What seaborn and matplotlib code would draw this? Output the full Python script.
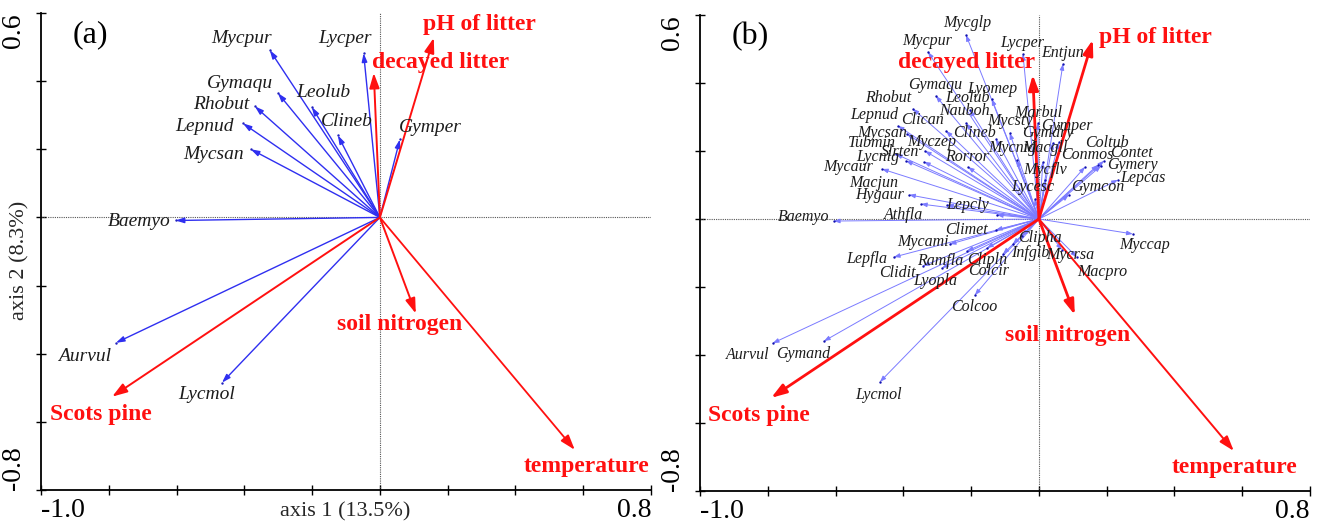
import matplotlib
matplotlib.use("Agg")
import matplotlib.pyplot as plt
import seaborn as sns
import numpy as np
import pandas as pd

# ---------------- data ----------------
env_names = ["pH of litter", "decayed litter", "soil nitrogen", "temperature", "Scots pine"]
env_x = [0.159, -0.018, 0.106, 0.575, -0.790]
env_y = [0.527, 0.424, -0.282, -0.682, -0.526]

sp_a_names = ["Mycpur", "Lycper", "Gymaqu", "Leolub", "Rhobut", "Lepnud", "Clineb",
              "Gymper", "Mycsan", "Baemyo", "Aurvul", "Lycmol"]
sp_a_x = [-0.325, -0.048, -0.301, -0.201, -0.369, -0.404, -0.124, 0.059, -0.381, -0.603, -0.779, -0.466]
sp_a_y = [0.491, 0.482, 0.365, 0.324, 0.326, 0.276, 0.241, 0.229, 0.200, -0.009, -0.368, -0.485]

sp_b_names = ["Mycglp", "Mycpur", "Lycper", "Entjun", "Gymaqu", "Lyomep", "Rhobut", "Leolub",
              "Nauboh", "Lepnud", "Clican", "Marbul", "Mycsty", "Gymper", "Mycsan", "Clineb",
              "Gymdry", "Tubmin", "Myczep", "Mycnig", "Macgll", "Coltub", "Slrten", "Lycnig",
              "Rorror", "Conmos", "Contet", "Mycaur", "Mycflv", "Gymery", "Lepcas", "Macjun",
              "Hygaur", "Lycesc", "Gymcon", "Lepcly", "Baemyo", "Athfla", "Climet", "Clipha",
              "Myccap", "Mycami", "Infgib", "Mycrsa", "Lepfla", "Ramfla", "Clipln", "Macpro",
              "Clidit", "Colcir", "Lyopla", "Colcoo", "Aurvul", "Gymand", "Lycmol"]
sp_b_x = [-0.215, -0.327, -0.047, 0.071, -0.304, -0.139, -0.372, -0.204,
          -0.215, -0.416, -0.274, -0.003, -0.086, 0.059, -0.389, -0.127,
          0.041, -0.422, -0.336, -0.065, 0.012, 0.174, -0.339, -0.392,
          -0.209, 0.136, 0.192, -0.463, 0.018, 0.183, 0.233, -0.383,
          -0.348, -0.012, 0.088, -0.124, -0.605, -0.271, -0.127, -0.050,
          0.277, -0.263, -0.077, 0.068, -0.428, -0.212, -0.153, 0.112,
          -0.342, -0.106, -0.286, -0.189, -0.785, -0.634, -0.469]
sp_b_y = [0.541, 0.491, 0.485, 0.456, 0.362, 0.353, 0.324, 0.321,
          0.282, 0.274, 0.259, 0.282, 0.253, 0.226, 0.250, 0.235,
          0.224, 0.191, 0.200, 0.174, 0.168, 0.159, 0.168, 0.171,
          0.153, 0.153, 0.171, 0.147, 0.115, 0.156, 0.115, 0.071,
          0.044, 0.059, 0.071, 0.012, -0.006, 0.041, -0.032, -0.050,
          -0.044, -0.074, -0.074, -0.091, -0.112, -0.094, -0.085, -0.112,
          -0.138, -0.103, -0.144, -0.224, -0.365, -0.359, -0.479]

x_ticks = [-1.0, -0.8, -0.6, -0.4, -0.2, 0.0, 0.2, 0.4, 0.6, 0.8]
y_ticks = [-0.8, -0.6, -0.4, -0.2, 0.0, 0.2, 0.4, 0.6]
x_label = "axis 1 (13.5%)"
y_label = "axis 2 (8.3%)"
panel_labels = ["(a)", "(b)"]

# ---------------- layout (label offsets in pixels: right, down) ----------------
env_off_a = {"pH of litter": (-11, -13, "left"), "decayed litter": (-2, -10, "left"),
             "soil nitrogen": (-16, 11, "center"), "temperature": (12, 17, "center"),
             "Scots pine": (-11, 18, "center")}
env_off_b = {"pH of litter": (6, -2, "left"), "decayed litter": (2, -12, "right"),
             "soil nitrogen": (-7, 21, "center"), "temperature": (1, 17, "center"),
             "Scots pine": (-12, 18, "center")}
sp_off_a = {"Mycpur": (-28, -12), "Lycper": (-19, -15), "Gymaqu": (-38, -10), "Leolub": (12, -15),
            "Rhobut": (-34, -2), "Lepnud": (-38, 3), "Clineb": (9, -14), "Gymper": (30, -12),
            "Mycsan": (-37, 5), "Baemyo": (-36, 1), "Aurvul": (-31, 14), "Lycmol": (-15, 12)}
sp_off_b = {"Mycglp": (1, -12), "Mycpur": (-1, -11), "Lycper": (-1, -11), "Entjun": (0, -11),
            "Gymaqu": (-1, -11), "Lyomep": (0, -10), "Rhobut": (-25, -11), "Leolub": (-2, -12),
            "Nauboh": (-2, -12), "Lepnud": (-24, -11), "Clican": (-24, -11), "Marbul": (0, -10),
            "Mycsty": (0, -12), "Gymper": (8, -16), "Mycsan": (-25, -1), "Clineb": (-21, -6),
            "Gymdry": (-5, -10), "Tubmin": (-24, -11), "Myczep": (7, -9), "Mycnig": (-5, -12),
            "Macgll": (2, -14), "Coltub": (9, -22), "Slrten": (-24, -10), "Lycnig": (-28, -4),
            "Rorror": (-1, -10), "Conmos": (2, -12), "Contet": (28, -8), "Mycaur": (-34, -2),
            "Mycflv": (0, -10), "Gymery": (32, -1), "Lepcas": (25, -2), "Macjun": (-35, -12),
            "Hygaur": (-41, -9), "Lycesc": (-2, -12), "Gymcon": (29, -8), "Lepcly": (-29, -10),
            "Baemyo": (-30, -4), "Athfla": (-44, 10), "Climet": (-29, 0), "Clipha": (18, 2),
            "Myccap": (12, 11), "Mycami": (-27, -2), "Infgib": (17, 9), "Mycrsa": (8, 5),
            "Lepfla": (-27, 2), "Ramfla": (-27, 10), "Clipln": (0, 12), "Macpro": (25, 15),
            "Clidit": (-26, 7), "Colcir": (-14, 17), "Lyopla": (-7, 13), "Colcoo": (-1, 12),
            "Aurvul": (-25, 12), "Gymand": (-21, 13), "Lycmol": (-1, 13)}

# ---------------- style ----------------
sns.set_style("ticks")
plt.rcParams["font.family"] = ["Liberation Serif", "DejaVu Serif"]
plt.rcParams["mathtext.fontset"] = "stix"

W, H = 1321, 526
fig = plt.figure(figsize=(W / 100, H / 100), dpi=100)
ax_a = fig.add_axes([41 / W, 36 / H, 610 / W, 477 / H])
ax_b = fig.add_axes([700 / W, 35 / H, 610 / W, 476 / H])

RED = "#ff1010"


def draw_panel(ax, names, xs, ys, offs, env_offs, sp_color, sp_lw, sp_head, sp_fs, red_lw, tip_color):
    df = pd.DataFrame({"x": xs, "y": ys, "name": names})
    sns.scatterplot(data=df, x="x", y="y", ax=ax, s=3, color=tip_color, linewidth=0, zorder=3,
                    legend=False)
    for n, x, y in zip(names, xs, ys):
        ax.annotate("", xy=(x, y), xytext=(0, 0),
                    arrowprops=dict(arrowstyle=f"-|>,head_length={sp_head[0]},head_width={sp_head[1]}",
                                    color=sp_color, lw=sp_lw, shrinkA=0, shrinkB=0,
                                    mutation_scale=10),
                    zorder=2)
        dx, dy = offs[n]
        ax.annotate(n, xy=(x, y), xytext=(dx, -dy), textcoords="offset pixels",
                    ha="center", va="center", fontsize=sp_fs, style="italic",
                    color="#1c1c1c", zorder=5)
    for i, (n, x, y) in enumerate(zip(env_names, env_x, env_y)):
        lw = red_lw[i]
        ax.annotate("", xy=(x, y), xytext=(0, 0),
                    arrowprops=dict(arrowstyle="-|>,head_length=0.9,head_width=0.3",
                                    color=RED, lw=lw, shrinkA=0, shrinkB=0, mutation_scale=10),
                    zorder=4)
        dx, dy, ha = env_offs[n]
        ax.annotate(n, xy=(x, y), xytext=(dx, -dy), textcoords="offset pixels",
                    ha=ha, va="center", fontsize=17, fontweight="bold", color=RED, zorder=6)

    ax.axhline(0, ls=(0, (1, 1)), color="#555555", lw=0.8, zorder=1)
    ax.axvline(0, ls=(0, (1, 1)), color="#555555", lw=0.8, zorder=1)
    ax.set_xlim(-1.0, 0.8)
    ax.set_ylim(-0.8, 0.6)
    ax.set_xticks(x_ticks)
    ax.set_yticks(y_ticks)
    ax.set_xticklabels(["-1.0"] + [""] * (len(x_ticks) - 2) + ["0.8"], fontsize=20)
    ax.set_yticklabels(["-0.8"] + [""] * (len(y_ticks) - 2) + ["0.6"], fontsize=20, rotation=90)
    xl = ax.get_xticklabels()
    xl[0].set_ha("left")
    xl[-1].set_ha("right")
    yl = ax.get_yticklabels()
    yl[0].set_va("bottom")
    yl[-1].set_va("top")
    ax.tick_params(axis="both", direction="inout", length=7, width=1.0, color="black",
                   labelcolor="black")
    ax.tick_params(axis="x", pad=2)
    ax.tick_params(axis="y", pad=7)
    sns.despine(ax=ax)
    for s in ["left", "bottom"]:
        ax.spines[s].set_linewidth(1.3)
        ax.spines[s].set_color("black")
    ax.set_xlabel("")
    ax.set_ylabel("")


draw_panel(ax_a, sp_a_names, sp_a_x, sp_a_y, sp_off_a, env_off_a, "#2f2ff0", 1.0, (0.5, 0.16), 14,
           [1.4, 1.4, 1.4, 1.3, 1.4], "#2020c0")
draw_panel(ax_b, sp_b_names, sp_b_x, sp_b_y, sp_off_b, env_off_b, "#7b7bff", 0.7, (0.35, 0.13), 11.5,
           [2.0, 2.0, 2.0, 1.4, 2.0], "#1010b0")

ax_a.set_xlabel(x_label, fontsize=16)
ax_a.xaxis.set_label_coords(0.498, -0.046)
ax_a.xaxis.label.set_va("center")
ax_a.set_ylabel(y_label, fontsize=16)
ax_a.yaxis.set_label_coords(-0.034, 0.482)
ax_a.yaxis.label.set_va("center")

for ax, lab in zip([ax_a, ax_b], panel_labels):
    ax.text(0.052, 0.955, lab, transform=ax.transAxes, fontsize=23, ha="left", va="center",
            color="black")

fig.savefig("out.png", dpi=100)
